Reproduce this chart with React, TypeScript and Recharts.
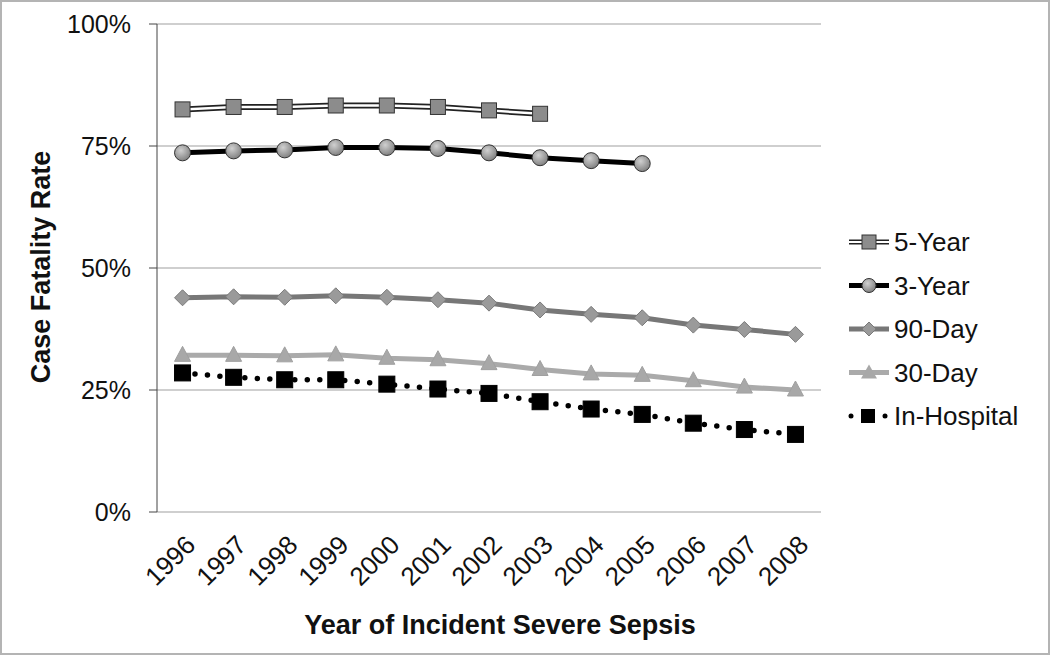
import { CartesianGrid, Line, LineChart, XAxis, YAxis } from 'recharts'

const years = [1996, 1997, 1998, 1999, 2000, 2001, 2002, 2003, 2004, 2005, 2006, 2007, 2008]
const fiveYear = [82.5, 83.0, 83.0, 83.3, 83.3, 83.0, 82.3, 81.6]
const threeYear = [73.6, 74.0, 74.2, 74.7, 74.7, 74.5, 73.6, 72.6, 72.0, 71.4]
const ninetyDay = [43.9, 44.1, 44.0, 44.3, 44.0, 43.5, 42.8, 41.4, 40.5, 39.8, 38.3, 37.4, 36.4]
const thirtyDay = [32.1, 32.1, 32.0, 32.2, 31.5, 31.2, 30.4, 29.2, 28.3, 28.0, 26.9, 25.6, 25.0]
const inHospital = [28.5, 27.6, 27.1, 27.1, 26.2, 25.2, 24.3, 22.6, 21.1, 20.0, 18.2, 16.9, 15.9]
const yTicks = [0, 25, 50, 75, 100]

const data = years.map((year, i) => ({
  year,
  fiveYear: fiveYear[i],
  threeYear: threeYear[i],
  ninetyDay: ninetyDay[i],
  thirtyDay: thirtyDay[i],
  inHospital: inHospital[i],
}))
const boundaries = [...years.map((y) => y - 0.5), years[years.length - 1] + 0.5]

const FONT = '"Liberation Sans", Arial, sans-serif'

// marker shapes
const square = (fill: string, stroke: string, s: number) => (p: any) => {
  if (p.cy == null || p.value == null) return <g key={p.key} />
  return <rect key={p.key} x={p.cx - s / 2} y={p.cy - s / 2} width={s} height={s} fill={fill} stroke={stroke} strokeWidth={1} />
}
const circle = (p: any) => {
  if (p.cy == null || p.value == null) return <g key={p.key} />
  return <circle key={p.key} cx={p.cx} cy={p.cy} r={8} fill="url(#ballGrad)" stroke="#333" strokeWidth={1} />
}
const diamond = (p: any) => {
  if (p.cy == null) return <g key={p.key} />
  const { cx, cy } = p
  return <path key={p.key} d={`M${cx},${cy - 8}L${cx + 8},${cy}L${cx},${cy + 8}L${cx - 8},${cy}Z`} fill="#9a9a9a" stroke="#7a7a7a" strokeWidth={1} />
}
const triangle = (p: any) => {
  if (p.cy == null) return <g key={p.key} />
  const { cx, cy } = p
  return <path key={p.key} d={`M${cx},${cy - 9}L${cx + 8},${cy + 6}L${cx - 8},${cy + 6}Z`} fill="#a8a8a8" stroke="#a0a0a0" strokeWidth={1} />
}

const XTick = (props: any) => {
  const { x, y, payload } = props
  return (
    <g transform={`translate(${x + 8},${y + 20})`}>
      <text transform="rotate(-45)" textAnchor="end" fontSize={26} fill="#111" fontFamily={FONT} dy="0.35em">
        {payload.value}
      </text>
    </g>
  )
}

const legendItems = [
  { name: '5-Year', kind: 'five' },
  { name: '3-Year', kind: 'three' },
  { name: '90-Day', kind: 'ninety' },
  { name: '30-Day', kind: 'thirty' },
  { name: 'In-Hospital', kind: 'hosp' },
]

const LegendIcon = ({ kind }: { kind: string }) => {
  if (kind === 'five')
    return (
      <g>
        <line x1={2} x2={42} y1={0} y2={0} stroke="#222" strokeWidth={5} />
        <line x1={2} x2={42} y1={0} y2={0} stroke="#fff" strokeWidth={2} />
        <rect x={15} y={-7} width={14} height={14} fill="#8c8c8c" stroke="#333" />
      </g>
    )
  if (kind === 'three')
    return (
      <g>
        <line x1={2} x2={42} y1={0} y2={0} stroke="#000" strokeWidth={5} />
        <circle cx={22} cy={0} r={7} fill="url(#ballGrad2)" stroke="#333" />
      </g>
    )
  if (kind === 'ninety')
    return (
      <g>
        <line x1={2} x2={42} y1={0} y2={0} stroke="#777" strokeWidth={5} />
        <path d="M22,-7L29,0L22,7L15,0Z" fill="#9a9a9a" stroke="#7a7a7a" />
      </g>
    )
  if (kind === 'thirty')
    return (
      <g>
        <line x1={2} x2={42} y1={0} y2={0} stroke="#aaa" strokeWidth={5} />
        <path d="M22,-8L30,6L14,6Z" fill="#a8a8a8" />
      </g>
    )
  return (
    <g>
      <circle cx={4} cy={0} r={2.5} fill="#000" />
      <rect x={14} y={-7} width={14} height={14} fill="#000" />
      <circle cx={38} cy={0} r={2.5} fill="#000" />
    </g>
  )
}

const LegendBox = () => (
  <svg width={200} height={230} style={{ position: 'absolute', left: 843, top: 226 }}>
    <defs>
      <radialGradient id="ballGrad2" cx="40%" cy="35%" r="70%">
        <stop offset="0%" stopColor="#d0d0d0" />
        <stop offset="100%" stopColor="#7c7c7c" />
      </radialGradient>
    </defs>
    {legendItems.map((it, i) => (
      <g key={it.name} transform={`translate(4,${16 + i * 43.5})`}>
        <LegendIcon kind={it.kind} />
        <text x={47} y={0} dy="0.35em" fontSize={26} fill="#111" fontFamily={FONT}>
          {it.name}
        </text>
      </g>
    ))}
  </svg>
)

export default function App() {
  return (
    <div style={{ position: 'absolute', left: 0, top: 0, width: 1050, height: 655, background: '#fff' }}>
      <LineChart width={1050} height={655} data={data} margin={{ top: 24, right: 229, bottom: 0, left: 0 }}>
        <defs>
          <radialGradient id="ballGrad" cx="40%" cy="35%" r="70%">
            <stop offset="0%" stopColor="#d0d0d0" />
            <stop offset="100%" stopColor="#7c7c7c" />
          </radialGradient>
        </defs>
        <CartesianGrid vertical={false} stroke="#a0a0a0" strokeWidth={1.2} />
        <XAxis
          xAxisId="tk"
          type="number"
          dataKey="year"
          domain={[boundaries[0], boundaries[boundaries.length - 1]]}
          ticks={boundaries}
          tick={false}
          tickSize={8}
          stroke="#444"
          height={0}
        />
        <XAxis
          type="number"
          dataKey="year"
          domain={[boundaries[0], boundaries[boundaries.length - 1]]}
          ticks={years}
          interval={0}
          tickLine={false}
          axisLine={false}
          tick={<XTick />}
          height={143}
          label={{
            content: () => (
              <text x={500} y={625} textAnchor="middle" fontSize={27} fontWeight="bold" fill="#111" fontFamily={FONT} dy="0.35em">
                Year of Incident Severe Sepsis
              </text>
            ),
          }}
        />
        <YAxis
          width={157}
          domain={[0, 100]}
          ticks={yTicks}
          tickFormatter={(v: number) => `${v}%`}
          tickSize={8}
          tickMargin={18}
          stroke="#444"
          tick={{ fontSize: 25, fill: '#111', fontFamily: FONT }}
          label={{
            content: () => (
              <text
                x={41}
                y={267}
                transform="rotate(-90 41 267)"
                textAnchor="middle"
                fontSize={27}
                fontWeight="bold"
                fill="#111"
                fontFamily={FONT}
                dy="0.35em"
              >
                Case Fatality Rate
              </text>
            ),
          }}
        />
        <Line dataKey="inHospital" stroke="#000" strokeWidth={5.5} strokeDasharray="0 12.5" strokeLinecap="round" dot={square('#000', '#000', 16)} isAnimationActive={false} />
        <Line dataKey="thirtyDay" stroke="#aaa" strokeWidth={5} dot={triangle} isAnimationActive={false} />
        <Line dataKey="ninetyDay" stroke="#777" strokeWidth={5} dot={diamond} isAnimationActive={false} />
        <Line dataKey="threeYear" stroke="#000" strokeWidth={5} dot={circle} isAnimationActive={false} />
        <Line dataKey="fiveYear" stroke="#222" strokeWidth={6} dot={false} isAnimationActive={false} />
        <Line dataKey="fiveYear" stroke="#fff" strokeWidth={2.5} dot={square('#8c8c8c', '#333', 15)} isAnimationActive={false} />
      </LineChart>
      <LegendBox />
      <div
        style={{
          position: 'absolute',
          left: 0,
          top: 0,
          width: 1050,
          height: 655,
          boxSizing: 'border-box',
          border: '2px solid #b4b4b4',
          pointerEvents: 'none',
        }}
      />
    </div>
  )
}
